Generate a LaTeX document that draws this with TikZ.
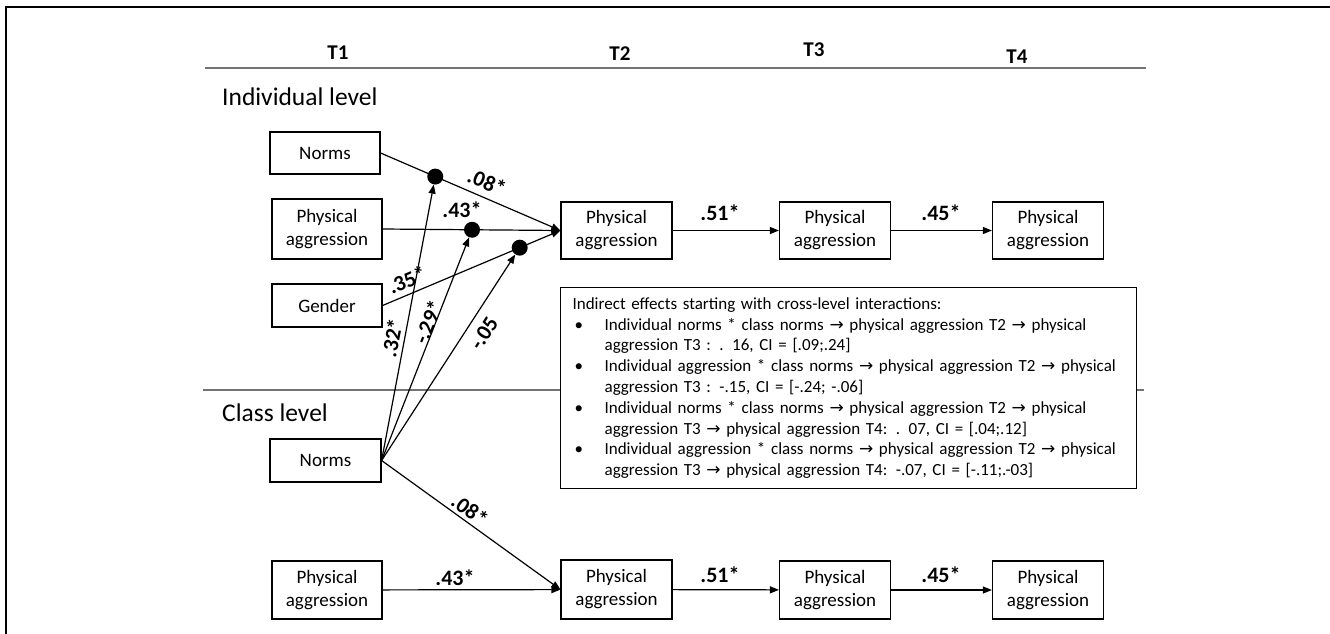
\documentclass[tikz,border=0pt]{standalone}
\usepackage{fontspec}
\setmainfont{Carlito}
\newfontfamily\arrfont{DejaVu Sans}
\usetikzlibrary{arrows.meta,calc}
\begin{document}
\begin{tikzpicture}[x=1pt,y=-1pt,
  box/.style={draw, line width=1.2pt, fill=white, minimum width=110pt, inner sep=0pt, align=center, font=\fontsize{19}{23}\selectfont},
  conn/.style={line width=1.2pt, -{Triangle[length=9pt,width=7pt]}},
  dot/.style={circle, fill=black, minimum size=16pt, inner sep=0pt},
  lbl/.style={font=\bfseries\fontsize{22}{24}\selectfont, inner sep=0pt},
  tlbl/.style={font=\bfseries\fontsize{21}{24}\selectfont, inner sep=0pt},
  level/.style={font=\fontsize{25.5}{28}\selectfont, anchor=west, inner sep=0pt},
  sepline/.style={draw=black!55, line width=2pt}
]
\useasboundingbox (0,0) rectangle (1330,634);
% frame
\draw[line width=1.6pt] (6,634) -- (6,7) -- (1330,7);
% separators
\draw[sepline] (205,68) -- (1146,68);
\draw[sepline] (203,390) -- (1144,390);
% headers
\node[tlbl] (T1) at (338,53) {T1};
\node[tlbl] (T2) at (620,54) {T2};
\node[tlbl] (T3) at (814,50) {T3};
\node[tlbl] (T4) at (1017,57) {T4};
\node[level] (indl) at (222,97) {Individual level};
\node[level] (clsl) at (222,413) {Class level};
% individual level boxes
\node[box, minimum height=42pt] (inorms) at (325,153) {Norms};
\node[box, minimum height=60pt] (ipa) at (327,229) {Physical\\aggression};
\node[box, minimum height=43pt] (gender) at (327,305.5) {Gender};
\node[box, minimum width=111pt, minimum height=57pt] (t2i) at (616.5,230.5) {Physical\\aggression};
\node[box, minimum width=111pt, minimum height=57pt] (t3i) at (835,230.5) {Physical\\aggression};
\node[box, minimum width=111pt, minimum height=57pt] (t4i) at (1048,230.5) {Physical\\aggression};
% class level boxes
\node[box, minimum width=111pt, minimum height=43pt] (cnorms) at (325.5,460.5) {Norms};
\node[box, minimum height=58pt] (cpa) at (327,590) {Physical\\aggression};
\node[box, minimum width=111pt, minimum height=59pt] (t2c) at (616.5,589.5) {Physical\\aggression};
\node[box, minimum width=111pt, minimum height=58pt] (t3c) at (835,590) {Physical\\aggression};
\node[box, minimum width=111pt, minimum height=58pt] (t4c) at (1048,590) {Physical\\aggression};
% individual level paths
\draw[conn] (inorms.east) -- (t2i.west);
\draw[conn] (ipa.east) -- (t2i.west);
\draw[conn] (gender.east) -- (t2i.west);
\node[dot] (d1) at ($(inorms.east)!0.304!(t2i.west)$) {};
\node[dot] (d2) at ($(ipa.east)!0.503!(t2i.west)$) {};
\node[dot] (d3) at ($(gender.east)!0.771!(t2i.west)$) {};
\draw[conn] (t2i) -- (t3i);
\draw[conn] (t3i) -- (t4i);
% cross-level paths
\draw[conn] (cnorms.east) -- (d1);
\draw[conn] (cnorms.east) -- (d2);
\draw[conn] (cnorms.east) -- (d3);
\draw[conn] (cnorms.east) -- (t2c.west);
% class level paths
\draw[conn] (cpa) -- (t2c);
\draw[conn] (t2c) -- (t3c);
\draw[conn] (t3c) -- (t4c);
% labels
\node[lbl, rotate=-23] (l08a) at (487,182) {.08*};
\node[lbl] (l43a) at (462,210) {.43*};
\node[lbl, rotate=23] (l35) at (407,280) {.35*};
\node[lbl, rotate=79] (l32) at (392,338) {.32*};
\node[lbl, rotate=68] (l29) at (428,322) {-.29*};
\node[lbl, rotate=57] (l05) at (484,333) {-.05};
\node[lbl] (l51a) at (720,213) {.51*};
\node[lbl] (l45a) at (941,213) {.45*};
\node[lbl, rotate=-35.5] (l08b) at (470,510) {.08*};
\node[lbl] (l43b) at (455,578) {.43*};
\node[lbl] (l51b) at (720,575) {.51*};
\node[lbl] (l45b) at (941,575) {.45*};
% indirect effects box
\node[draw, line width=1.2pt, fill=white, anchor=north west, minimum width=576pt, minimum height=201pt, text width=552pt, inner xsep=12pt, inner ysep=0pt, align=left, font=\fontsize{17}{20.8}\selectfont] (ind) at (560,287) {Indirect effects starting with cross-level interactions:\\
\makebox[32pt][l]{\hspace*{2pt}•}Individual norms * class norms {\arrfont →} physical aggression T2 {\arrfont →} physical\\
\hspace*{32pt}aggression T3 : . 16, CI = [.09;.24]\\
\makebox[32pt][l]{\hspace*{2pt}•}Individual aggression * class norms {\arrfont →} physical aggression T2 {\arrfont →} physical\\
\hspace*{32pt}aggression T3 : -.15, CI = [-.24; -.06]\\
\makebox[32pt][l]{\hspace*{2pt}•}Individual norms * class norms {\arrfont →} physical aggression T2 {\arrfont →} physical\\
\hspace*{32pt}aggression T3 {\arrfont →} physical aggression T4: . 07, CI = [.04;.12]\\
\makebox[32pt][l]{\hspace*{2pt}•}Individual aggression * class norms {\arrfont →} physical aggression T2 {\arrfont →} physical\\
\hspace*{32pt}aggression T3 {\arrfont →} physical aggression T4: -.07, CI = [-.11;.-03]};
\end{tikzpicture}
\end{document}
